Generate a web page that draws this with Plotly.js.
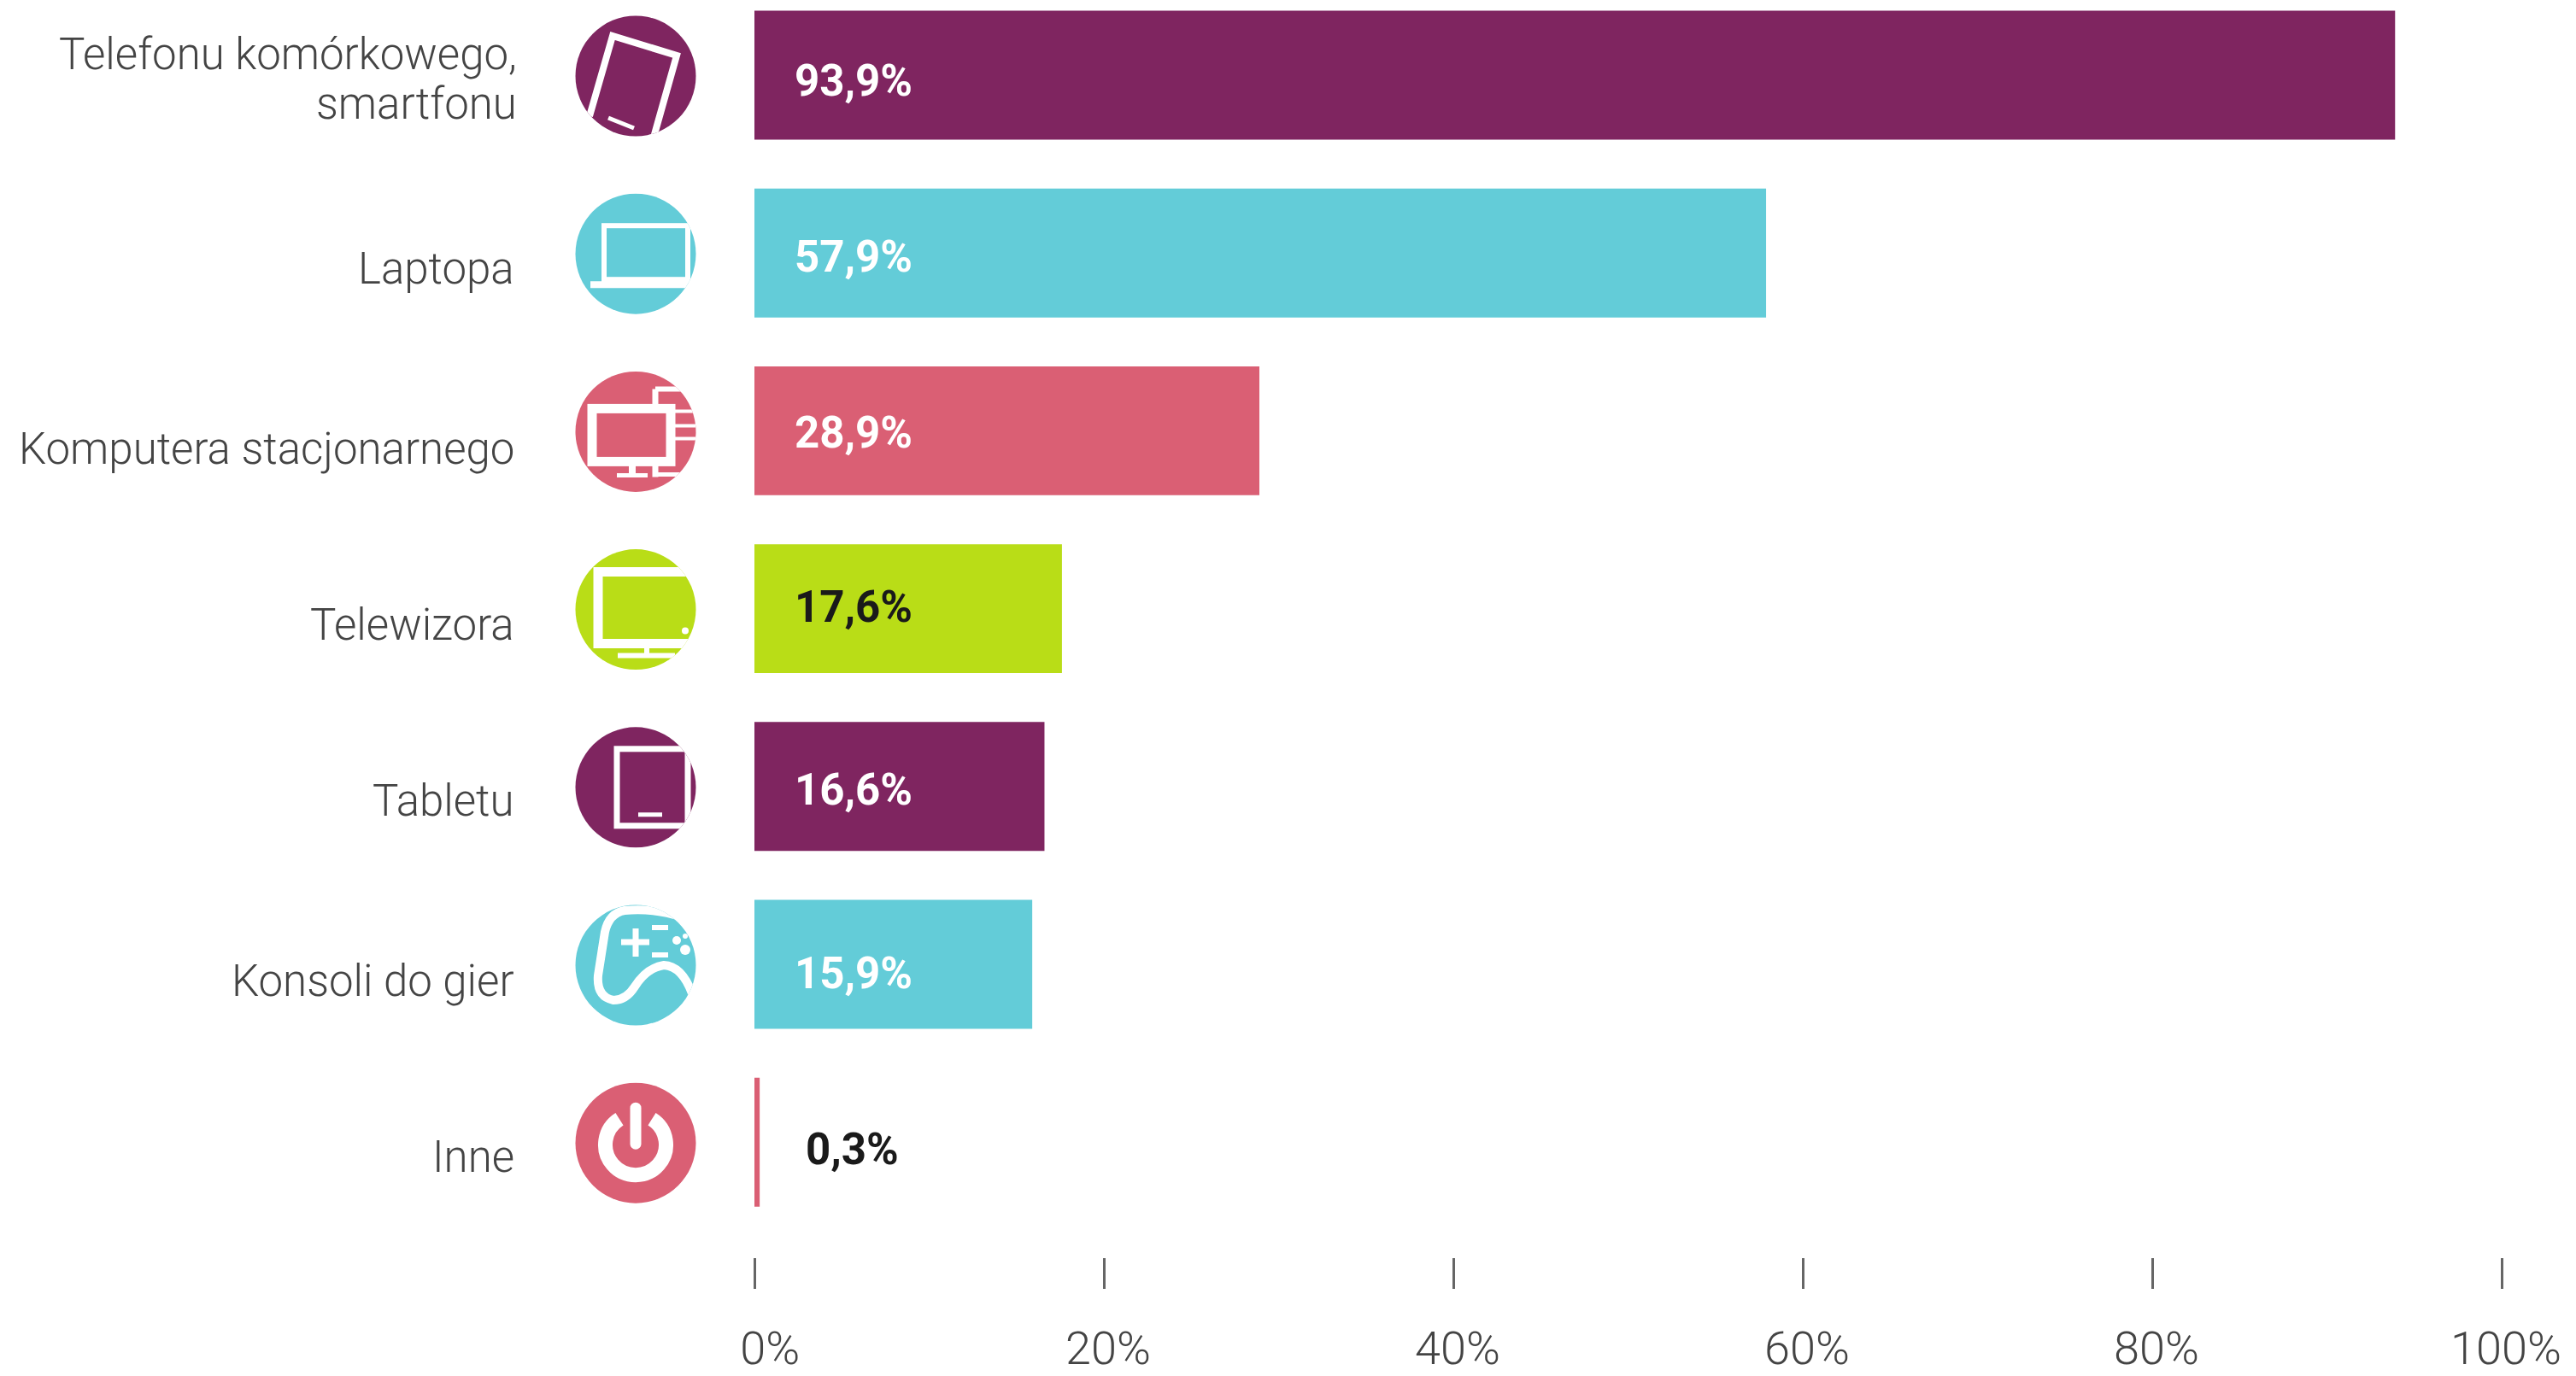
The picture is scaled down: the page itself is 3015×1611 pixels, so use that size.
<!DOCTYPE html>
<html><head><meta charset="utf-8">
<script src="https://cdn.plot.ly/plotly-3.0.1.min.js"></script>
<style>html,body{margin:0;padding:0;background:#fff}#c{width:3015px;height:1611px}</style>
</head><body><div id="c"></div>
<script>
const categories = ["Telefonu komórkowego,<br>smartfonu","Laptopa","Komputera stacjonarnego","Telewizora","Tabletu","Konsoli do gier","Inne"];
const values = [93.9,57.9,28.9,17.6,16.6,15.9,0.3];
const valueLabels = ["93,9%","57,9%","28,9%","17,6%","16,6%","15,9%","0,3%"];
const barColors = ["#7F2560","#63CCD8","#DA5F74","#B9DD17","#7F2560","#63CCD8","#DA5F74"];
const labelColors = ["#ffffff","#ffffff","#ffffff","#1a1a1a","#ffffff","#ffffff","#1a1a1a"];
const xTicks = [0,20,40,60,80,100];
const xTickLabels = ["\u00A0\u00A00%","20%","40%","60%","80%","100%"];

const W=3015,H=1611,L=883,R=2928,B=1472,PW=R-L,PH=B;
const step=208.2, firstC=88;
const yTop=-firstC/step, yBot=(B-firstC)/step;

const w='#fff';
const line=(a,b,c,d,sw,cap)=>`<line x1="${a}" y1="${b}" x2="${c}" y2="${d}" stroke="${w}" stroke-width="${sw}" stroke-linecap="${cap||'butt'}"/>`;
const rect=(x,y,a,h,sw)=>`<rect x="${x}" y="${y}" width="${a}" height="${h}" fill="none" stroke="${w}" stroke-width="${sw}"/>`;
const dot=(x,y,r)=>`<circle cx="${x}" cy="${y}" r="${r}" fill="${w}"/>`;
const icons=[
 `<path d="M17 118L44 24L119 47L90 150" fill="none" stroke="${w}" stroke-width="8" stroke-linejoin="miter"/>`+line(39,120,69,132,5),
 rect(34,38,98,63,6)+line(18,107,142,107,8),
 rect(20,44,92,62,11)+line(67,106,67,122,8)+line(49,122,85,122,5)+
   line(94,44,94,21,7)+line(94,21,142,21,6)+line(112,47,142,47,4)+line(112,64,142,64,4)+line(112,79,142,79,4)+line(94,106,94,124,7)+line(94,121,142,121,5),
 `<path d="M142 27H27V111H142" fill="none" stroke="${w}" stroke-width="11"/>`+line(84,111,84,125,6)+line(50,125,117,125,6)+dot(129,96,4),
 rect(49,26,83,90,7)+line(74,103,102,103,5),
 `<path d="M125 15Q95 4 58 7Q40 10 35 32L27 83Q25 108 45 112Q60 112 70 96Q84 74 104 71Q125 72 137 104" fill="none" stroke="${w}" stroke-width="10" stroke-linecap="round"/>`+
   line(54,44,87,44,7)+line(71,28,71,61,7)+line(90,27,109,27,6)+line(90,59,109,59,6)+dot(119,42,5)+dot(129,53,6)+dot(129,37,3),
 `<path d="M52 43A35.5 35.5 0 1 0 90 43" fill="none" stroke="${w}" stroke-width="17"/>`+line(71,30,71,72,13,'round')
];
const iconSvg=(i)=>{
 const s=`<svg xmlns="http://www.w3.org/2000/svg" width="142" height="142" viewBox="0 0 142 142"><defs><clipPath id="k"><circle cx="71" cy="71" r="70.5"/></clipPath></defs><circle cx="71" cy="71" r="70.5" fill="${barColors[i]}"/><g clip-path="url(#k)">${icons[i]}</g></svg>`;
 return 'data:image/svg+xml;charset=utf-8,'+encodeURIComponent(s);
};
const images=categories.map((c,i)=>({
 source:iconSvg(i),xref:'paper',yref:'paper',x:(744-71-L)/PW,y:1-(firstC+i*step-71+1)/PH,
 sizex:142/PW,sizey:142/PH,sizing:'stretch',xanchor:'left',yanchor:'top',layer:'above'}));

const valueYShift=[-6,-4,-2,2,-4,-10,-8];
const valueAnn=categories.map((c,i)=>({
 xref:'x',yref:'y',x:0,y:c,text:valueLabels[i],showarrow:false,xanchor:'left',yanchor:'middle',
 xshift:i===6?58:45,yshift:valueYShift[i],
 font:{family:'Roboto, sans-serif',size:51,weight:700,color:labelColors[i]}}));

const catDown=[[-25,33],[18],[21],[19],[17],[19],[17]];
const catAnn=[];
categories.forEach((c,i)=>c.split('<br>').forEach((t,j)=>catAnn.push({
 xref:'x',yref:'y',x:0,y:c,text:t,showarrow:false,xanchor:'right',yanchor:'middle',
 xshift:i===0?-276:-279,yshift:-catDown[i][j],
 font:{family:'Roboto, sans-serif',size:51,weight:300,color:'#444'}})));

Plotly.newPlot('c',[{
 type:'bar',orientation:'h',x:values,y:categories,width:0.725,
 marker:{color:barColors,line:{width:0}},hoverinfo:'skip'
}],{
 width:W,height:H,margin:{l:L,r:W-R,t:0,b:H-B,pad:0},
 paper_bgcolor:'#fff',plot_bgcolor:'#fff',showlegend:false,
 xaxis:{range:[0,100],tickvals:xTicks,ticktext:xTickLabels,ticks:'outside',ticklen:36,tickwidth:3,tickcolor:'#666',
  showgrid:false,zeroline:false,showline:false,ticklabelshift:5,ticklabelstandoff:23,
  tickfont:{family:'Roboto, sans-serif',size:54,weight:300,color:'#444'}},
 yaxis:{type:'category',categoryorder:'array',categoryarray:categories,tickvals:categories,range:[yBot,yTop],
  showgrid:false,zeroline:false,showline:false,ticks:'',showticklabels:false},
 images:images,annotations:catAnn.concat(valueAnn)
},{displayModeBar:false,staticPlot:true});
</script></body></html>
